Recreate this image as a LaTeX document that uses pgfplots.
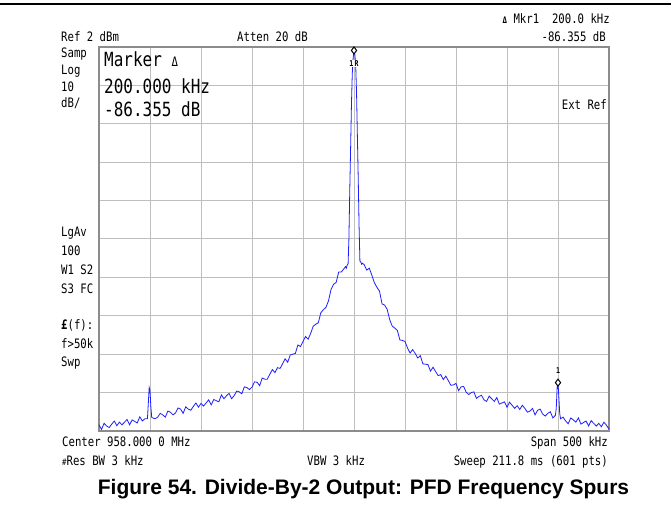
\documentclass[border=0pt]{standalone}
\usepackage{pgfplots}
\pgfplotsset{compat=1.18}
\usepackage{pgfplotstable}
\usepackage{fontspec}
\setmainfont{Liberation Sans}
\newfontfamily\inst[FakeStretch=0.82]{DejaVu Sans Mono}
\newcommand{\ins}{\inst\fontsize{13}{13}\selectfont}
\newcommand{\insbig}{\inst\fontsize{19.5}{19.5}\selectfont}
\definecolor{trace}{RGB}{30,30,255}

\pgfplotstableread{
f L
-250 -96.4
-247.5 -97.6
-245 -96.0
-242.5 -96.7
-240 -97.1
-237.5 -96.2
-235 -95.4
-232.5 -96.6
-230 -95.7
-227.5 -96.4
-225 -95.7
-222.5 -95.0
-220 -96.4
-217.5 -95.1
-215 -95.5
-212.5 -95.9
-210 -94.3
-207.5 -95.4
-205 -94.8
-202.5 -94.8
-201.7 -91.0
-200.8 -86.7
-200 -87.5
-199.2 -91.5
-198.3 -94.5
-195 -94.8
-192.5 -94.4
-190 -93.4
-187.5 -93.8
-185 -94.4
-182.5 -92.8
-180 -93.1
-177.5 -93.8
-175 -93.3
-172.5 -92.0
-170 -92.3
-167.5 -93.4
-165 -91.7
-162.5 -92.3
-160 -92.6
-157.5 -91.6
-155 -90.7
-152.5 -91.8
-150 -90.8
-147.5 -91.5
-145 -90.7
-142.5 -89.9
-140 -91.2
-137.5 -89.8
-135 -90.1
-132.5 -90.4
-130 -88.6
-127.5 -89.6
-125 -88.8
-122.5 -88.2
-120 -89.6
-117.5 -88.8
-115 -87.6
-112.5 -87.8
-110 -88.3
-107.5 -86.5
-105 -86.7
-102.5 -87.2
-100 -86.6
-97.5 -85.2
-95 -85.3
-92.5 -86.2
-90 -84.2
-87.5 -84.5
-85 -84.5
-82.5 -83.2
-80 -82.0
-77.5 -82.8
-75 -81.5
-72.5 -81.7
-70 -80.5
-67.5 -79.2
-65 -80.1
-62.5 -78.2
-60 -78.0
-57.5 -77.8
-55 -75.6
-52.5 -76.0
-50 -74.7
-47.5 -73.4
-45 -74.1
-42.5 -72.6
-40 -70.7
-37.5 -70.2
-35 -69.8
-32.5 -67.2
-30 -66.4
-27.5 -65.8
-25 -64.1
-22.5 -61.1
-20 -59.8
-17.5 -59.3
-15 -56.6
-12.5 -56.6
-10 -55.8
-8.3 -55.2
-7.5 -55.6
-6.7 -54.8
-5.8 -54.5
-5.0 -48
-4.2 -36
-3.3 -24
-2.5 -13
-1.7 -5
-0.8 -0.8
0 1.0
0.8 0.2
1.7 -3
2.5 -10
3.3 -21
4.2 -33
5.0 -45
5.8 -53.8
6.7 -54.0
7.5 -54.6
8.3 -54.3
10 -54.7
12.5 -56.1
15 -55.6
17.5 -57.4
20 -59.4
22.5 -60.6
25 -61.6
27.5 -64.9
30 -65.2
32.5 -66.3
35 -69.0
37.5 -70.7
40 -71.2
42.5 -71.8
45 -74.3
47.5 -74.4
50 -74.7
52.5 -76.4
55 -77.7
57.5 -76.8
60 -77.8
62.5 -79.0
65 -78.4
67.5 -80.5
70 -80.6
72.5 -80.7
75 -82.4
77.5 -81.4
80 -82.5
82.5 -83.6
85 -83.3
87.5 -84.6
90 -83.7
92.5 -84.9
95 -86.1
97.5 -86.0
100 -85.6
102.5 -87.5
105 -86.5
107.5 -86.4
110 -87.9
112.5 -88.5
115 -88.0
117.5 -87.8
120 -89.5
122.5 -89.0
125 -88.7
127.5 -89.9
130 -90.3
132.5 -88.9
135 -89.6
137.5 -90.3
140 -89.3
142.5 -91.0
145 -90.7
147.5 -90.4
150 -91.8
152.5 -90.5
155 -91.3
157.5 -92.1
160 -91.4
162.5 -92.4
165 -91.3
167.5 -92.1
170 -93.1
172.5 -92.8
175 -92.1
177.5 -93.8
180 -92.6
182.5 -92.3
185 -93.6
187.5 -94.1
190 -93.4
192.5 -93.0
195 -94.6
197.5 -93.9
198.3 -92.0
199.2 -86.5
200 -85.4
200.8 -89.0
201.7 -93.5
202.5 -94.8
205 -94.4
207.5 -95.4
210 -96.1
212.5 -94.6
215 -95.1
217.5 -95.7
220 -94.6
222.5 -96.2
225 -95.8
227.5 -95.4
230 -96.7
232.5 -95.3
235 -96.0
237.5 -96.7
240 -96.0
242.5 -96.9
245 -95.7
247.5 -96.5
250 -97.5
}\spectrum

\begin{document}
\begin{tikzpicture}[x=1pt,y=1pt]
\useasboundingbox (0,0) rectangle (671,512);
\draw[black,line width=1.5pt] (0,508) -- (671,508);
\begin{axis}[
  at={(99pt,81pt)}, anchor=south west,
  width=510pt, height=384pt, scale only axis,
  xmin=-250, xmax=250, ymin=-98, ymax=2,
  xtick={-250,-200,...,250}, ytick={-98,-88,...,2},
  xticklabels={}, yticklabels={},
  major tick length=0pt,
  grid=major, grid style={draw=black!25, line width=1pt},
  axis line style={draw=black!45, line width=1.5pt},
  clip=false,
]
\addplot[trace, line width=0.8pt, mark=none] table[x=f, y=L] {\spectrum};
\addplot[only marks, mark=diamond*, mark size=3.5pt,
  mark options={fill=white, draw=black, line width=1pt}] coordinates {(0,1.1) (200,-85.4)};
\node[font=\inst\fontsize{8}{8}\selectfont\bfseries, fill=white, inner sep=0.6pt] at (axis cs:0,-2.3) {1\,R};
\node[font=\inst\fontsize{8}{8}\selectfont\bfseries, inner sep=0.6pt] at (axis cs:200,-82.2) {1};
\end{axis}

% top-left annotations
\node[anchor=base west, inner sep=0, font=\ins] at (61,512-42) {Ref 2 dBm};
\node[anchor=base west, inner sep=0, font=\ins] at (237,512-42) {Atten 20 dB};
\node[anchor=base east, inner sep=0, font=\ins] at (610,512-24) {{\fontsize{9}{9}\selectfont\bfseries Δ} Mkr1\ \ 200.0 kHz};
\node[anchor=base east, inner sep=0, font=\ins] at (606,512-42) {-86.355 dB};
\node[anchor=base east, inner sep=0, font=\ins] at (607,512-110) {Ext Ref};

\node[anchor=base west, inner sep=0, font=\ins] at (61,512-58) {Samp};
\node[anchor=base west, inner sep=0, font=\ins] at (61,512-75) {Log};
\node[anchor=base west, inner sep=0, font=\ins] at (61,512-92) {10};
\node[anchor=base west, inner sep=0, font=\ins] at (61,512-108) {dB/};

\node[anchor=base west, inner sep=0, font=\ins] at (61,512-236) {LgAv};
\node[anchor=base west, inner sep=0, font=\ins] at (61,512-255) {100};
\node[anchor=base west, inner sep=0, font=\ins] at (61,512-274) {W1 S2};
\node[anchor=base west, inner sep=0, font=\ins] at (61,512-293) {S3 FC};
\node[anchor=base west, inner sep=0, font=\ins] at (61,512-329) {{\bfseries £}(f):};
\node[anchor=base west, inner sep=0, font=\ins] at (61,512-348) {f>50k};
\node[anchor=base west, inner sep=0, font=\ins] at (61,512-366) {Swp};

% marker readout
\node[anchor=base west, inner sep=0, font=\insbig] at (104,512-67) {Marker {\fontsize{13}{13}\selectfont Δ}};
\node[anchor=base west, inner sep=0, font=\insbig] at (104,512-94) {200.000 kHz};
\node[anchor=base west, inner sep=0, font=\insbig] at (104,512-117) {-86.355 dB};

% bottom annotations
\node[anchor=base west, inner sep=0, font=\ins] at (62,512-446) {Center 958.000 0 MHz};
\node[anchor=base east, inner sep=0, font=\ins] at (608,512-446) {Span 500 kHz};
\node[anchor=base west, inner sep=0, font=\ins] at (62,512-465) {{\fontsize{9}{9}\selectfont\#}Res BW 3 kHz};
\node[anchor=base west, inner sep=0, font=\ins] at (307,512-465) {VBW 3 kHz};
\node[anchor=base east, inner sep=0, font=\ins] at (608,512-465) {Sweep 211.8 ms (601 pts)};

% caption
\node[anchor=base, inner sep=0, font=\fontsize{21}{21}\selectfont\bfseries] at (363.5,512-494) {Figure 54. Divide-By-2 Output: PFD Frequency Spurs};
\end{tikzpicture}
\end{document}
